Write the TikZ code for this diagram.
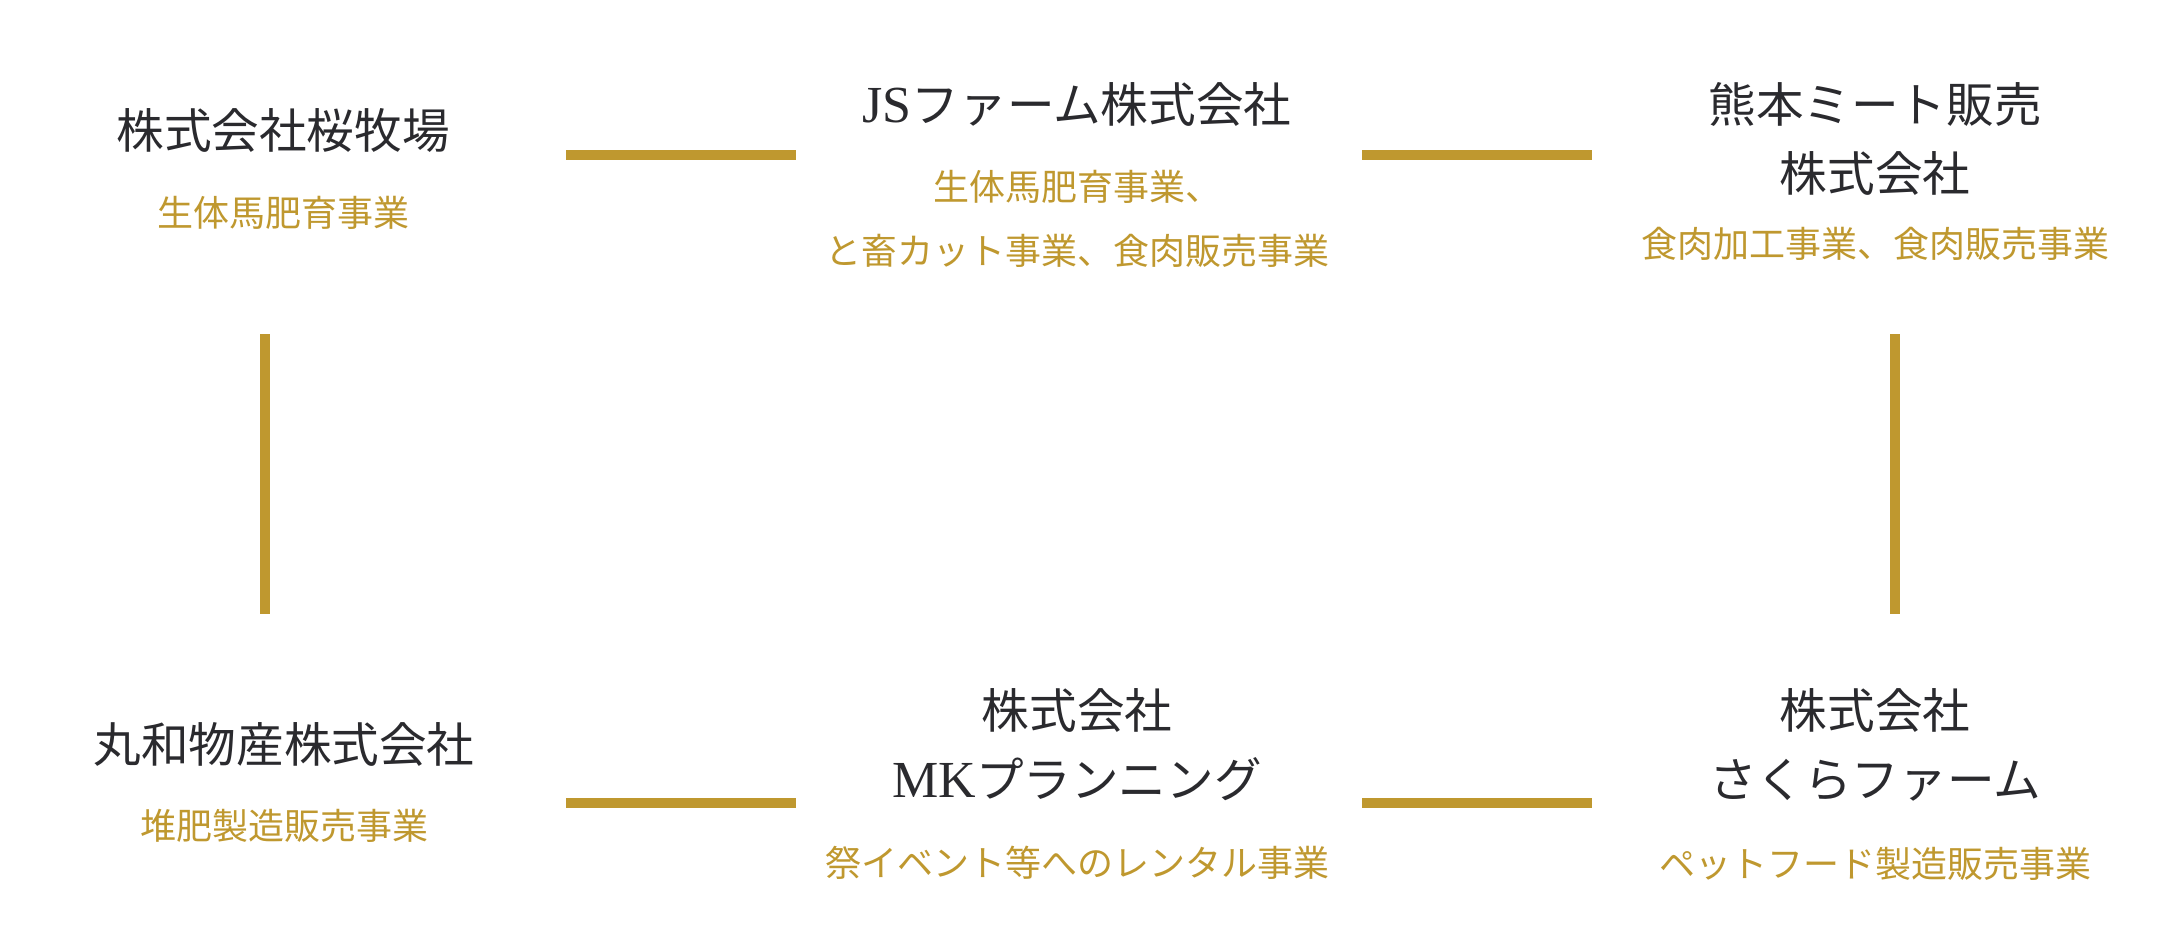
\documentclass[tikz,border=0pt]{standalone}
\usepackage{fontspec}
\setmainfont{Noto Sans CJK JP}
\newfontfamily\serifpart{Liberation Serif}
\usepackage{xcolor}
\definecolor{groupGold}{HTML}{BF982F}
\definecolor{groupInk}{HTML}{2A2A2E}
\usetikzlibrary{positioning}
\tikzset{company/.style={text=groupInk, font=\fontsize{23.8}{28}\selectfont},inner sep=0pt}
\tikzset{business/.style={text=groupGold, font=\fontsize{18}{21}\selectfont},inner sep=0pt}
\tikzset{link/.style={draw=groupGold, line width=5pt}}

\begin{document}
\begin{tikzpicture}[x=0.5pt,y=-0.5pt,node distance=41.5pt,on grid]
\useasboundingbox (0,0) rectangle (2158,948);
% top row
\node[company](sakura)at(283,130){株式会社桜牧場};
\node[business](sakurabiz)[below=of sakura]{生体馬肥育事業};
\node[company](js)at(1077,104){{\serifpart\fontsize{26}{28}\selectfont JS}ファーム株式会社};
\node[business](jsbiz)[below=of js]{生体馬肥育事業、};
\node[business](jsbiz2)[below=32pt of jsbiz]{と畜カット事業、食肉販売事業};
\node[company](kuma)at(1875,104){熊本ミート販売};
\node[company](kumakk)[below=34.5pt of kuma]{株式会社};
\node[business](kumabiz)[below=35.5pt of kumakk]{食肉加工事業、食肉販売事業};
% bottom row
\node[company](maruwa)at(284,744){丸和物産株式会社};
\node[business](maruwabiz)[below=41pt of maruwa]{堆肥製造販売事業};
\node[company](mkkk)at(1077,710){株式会社};
\node[company](mk)[below=34.5pt of mkkk]{{\serifpart\fontsize{26}{28}\selectfont MK}プランニング};
\node[business](mkbiz)[below=42pt of mk]{祭イベント等へのレンタル事業};
\node[company](sfkk)at(1875,710){株式会社};
\node[company](sf)[below=35pt of sfkk]{さくらファーム};
\node[business](sfbiz)[below=42pt of sf]{ペットフード製造販売事業};
% links
\coordinate (ta) at (566,155); \coordinate (tb) at (796,155);
\coordinate (tc) at (1362,155); \coordinate (td) at (1592,155);
\coordinate (ba) at (566,803); \coordinate (bb) at (796,803);
\coordinate (bc) at (1362,803); \coordinate (bd) at (1592,803);
\coordinate (la) at (265,334); \coordinate (lb) at (265,614);
\coordinate (ra) at (1895,334); \coordinate (rb) at (1895,614);
\draw[link] (ta) -- (tb);
\draw[link] (tc) -- (td);
\draw[link] (ba) -- (bb);
\draw[link] (bc) -- (bd);
\draw[link] (la) -- (lb);
\draw[link] (ra) -- (rb);
\end{tikzpicture}
\end{document}
